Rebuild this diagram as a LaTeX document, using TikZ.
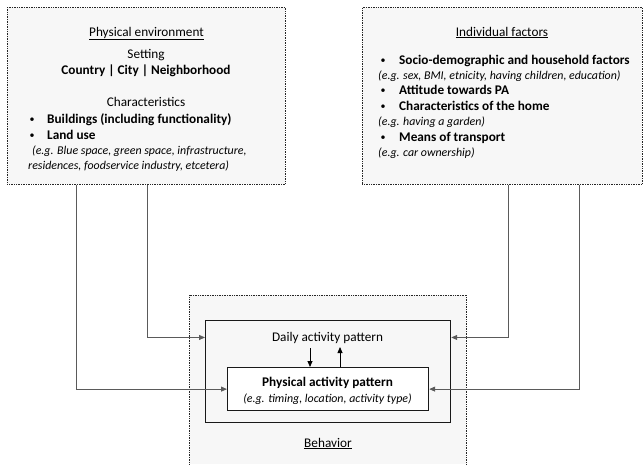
\documentclass[tikz,border=0pt]{standalone}
\usepackage{fontspec}
\setmainfont{Carlito}
\usetikzlibrary{arrows.meta}
\definecolor{boxfill}{HTML}{F7F7F7}
\definecolor{linegray}{HTML}{5A5A5A}
\begin{document}
\begin{tikzpicture}[x=1pt,y=-1pt,
  outerbox/.style={draw=black!85, densely dotted, line width=0.7pt, fill=boxfill, anchor=north west, inner sep=0pt},
  solidbox/.style={draw=black!90, line width=1.2pt, anchor=north west, inner sep=0pt},
  conn/.style={draw=linegray, line width=0.8pt, -{Triangle[length=6pt,width=5pt]}},
  txt/.style={font=\fontsize{13.25}{15}\selectfont, inner sep=0pt, anchor=base west},
  ctxt/.style={font=\fontsize{13.25}{15}\selectfont, inner sep=0pt, anchor=base},
  itxt/.style={font=\fontsize{11.9}{14}\selectfont\itshape, inner sep=0pt, anchor=base west},
  ictxt/.style={font=\fontsize{11.9}{14}\selectfont\itshape, inner sep=0pt, anchor=base},
  bul/.style={font=\fontsize{10}{12}\selectfont, inner sep=0pt, anchor=base}
]
\useasboundingbox (0,0) rectangle (644,464);
% boxes
\node[outerbox, minimum width=278pt, minimum height=177pt] (env) at (7,7) {};
\node[outerbox, minimum width=280pt, minimum height=177pt] (ind) at (362,7) {};
\node[fill=boxfill, anchor=north west, inner sep=0pt, minimum width=277pt, minimum height=169pt] (behav) at (189,295) {};
\draw[draw=black!85, densely dotted, line width=0.7pt] (behav.south west) |- (behav.north east) -- (behav.south east);
\node[solidbox, minimum width=245pt, minimum height=102pt] (daily) at (205,320) {};
\node[solidbox, fill=white, minimum width=201pt, minimum height=43pt] (pap) at (227,367) {};

% physical environment text
\node[ctxt] (t1) at (146.5,36) {\underline{Physical environment}};
\node[ctxt] (t2) at (146,58) {Setting};
\node[ctxt] (t3) at (146,74) {\textbf{Country | City | Neighborhood}};
\node[ctxt] (t4) at (146,106) {Characteristics};
\node[bul] (b1) at (32,122) {•};
\node[txt] (t5) at (47,123) {\textbf{Buildings (including functionality)}};
\node[bul] (b2) at (32,138) {•};
\node[txt] (t6) at (47,139) {\textbf{Land use}};
\node[itxt] (t7) at (32,154) {(e.g. Blue space, green space, infrastructure,};
\node[itxt] (t8) at (28,169) {residences, foodservice industry, etcetera)};

% individual factors text
\node[ctxt] (i1) at (502,36) {\underline{Individual factors}};
\node[bul] (ib1) at (383,63) {•};
\node[txt] (i2) at (399,64) {\textbf{Socio-demographic and household factors}};
\node[itxt] (i3) at (378,79) {(e.g. sex, BMI, etnicity, having children, education)};
\node[bul] (ib2) at (383,93) {•};
\node[txt] (i4) at (399,94) {\textbf{Attitude towards PA}};
\node[bul] (ib3) at (383,109) {•};
\node[txt] (i5) at (399,110) {\textbf{Characteristics of the home}};
\node[itxt] (i6) at (378,125) {(e.g. having a garden)};
\node[bul] (ib4) at (383,140) {•};
\node[txt] (i7) at (399,141) {\textbf{Means of transport}};
\node[itxt] (i8) at (378,156) {(e.g. car ownership)};

% behavior texts
\node[ctxt] (dtext) at (327.5,341) {Daily activity pattern};
\node[ctxt] (p1) at (327.5,386) {\textbf{Physical activity pattern}};
\node[ictxt] (p2) at (327.5,402) {(e.g. timing, location, activity type)};
\node[ctxt] (bt) at (328,447) {\underline{Behavior}};

% inner arrows
\coordinate (dn) at (310,348);
\coordinate (up) at (340,347);
\draw[conn, draw=black] (dn) -- (pap.north -| dn);
\draw[conn, draw=black] (pap.north -| up) -- (up);

% connectors
\draw[conn] (env.south west) ++(69,0) |- (pap.west);
\draw[conn] (env.south west) ++(140,0) |- (daily.west |- dtext);
\draw[conn] (ind.south west) ++(146,0) |- (daily.east |- dtext);
\draw[conn] (ind.south west) ++(217,0) |- (pap.east);
\end{tikzpicture}
\end{document}
